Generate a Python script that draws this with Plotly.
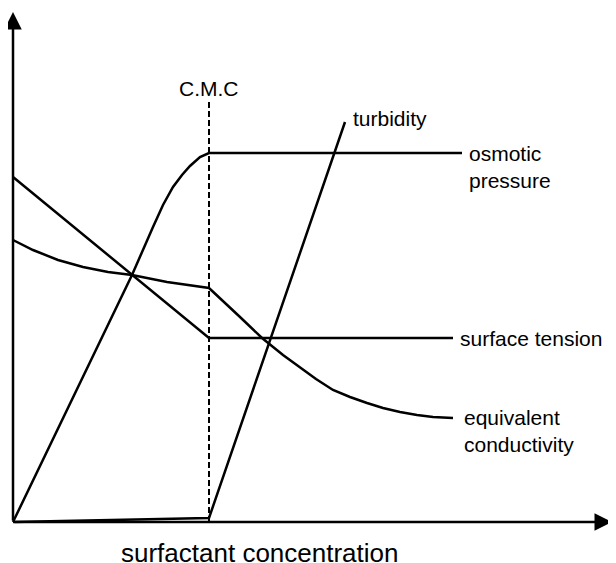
import plotly.graph_objects as go

# Data (arbitrary units, origin at axis corner)
cmc_x = 196
cmc_top = 422

osmotic_x = [0, 84, 119, 140, 150, 160, 169, 177, 187, 196, 449]
osmotic_y = [0, 174, 247, 295, 317, 335, 347, 356, 365, 369, 369]

tension_x = [0, 196, 440]
tension_y = [345, 184, 184]

conduct_x = [0, 20, 45, 70, 95, 119, 154, 196, 227, 249, 270, 287, 303, 320, 337, 354, 370, 387, 404, 420, 440]
conduct_y = [282, 272, 262, 255, 250, 247, 240, 234, 205, 184, 167, 155, 143, 132, 125, 119, 114, 110, 107, 105, 104]

turbid_x = [0, 196, 332]
turbid_y = [0, 4, 400]

labels = ["turbidity", "osmotic<br>pressure", "surface tension", "equivalent<br>conductivity"]
label_x = [338, 454, 445, 449]
label_y = [404, 355, 184, 91]

x_title = "surfactant concentration"
cmc_label = "C.M.C"

FONT = "Liberation Sans, Arial, sans-serif"
line = dict(color="black", width=2.5)

fig = go.Figure()
for xs, ys in [(osmotic_x, osmotic_y), (tension_x, tension_y),
               (conduct_x, conduct_y), (turbid_x, turbid_y)]:
    fig.add_trace(go.Scatter(x=xs, y=ys, mode="lines", line=line,
                             line_shape="linear",
                             hoverinfo="skip", showlegend=False))

# CMC dashed line
fig.add_trace(go.Scatter(x=[cmc_x, cmc_x], y=[0, cmc_top], mode="lines",
                         line=dict(color="black", width=2, dash="6px,3px"),
                         hoverinfo="skip", showlegend=False))

annotations = []
for t, x, y in zip(labels, label_x, label_y):
    annotations.append(dict(x=x, y=y, text=t, showarrow=False, xanchor="left",
                            yanchor="middle", align="left",
                            font=dict(family=FONT, size=21, color="black")))
annotations.append(dict(x=cmc_x, y=434, text=cmc_label, showarrow=False,
                        xanchor="center", yanchor="middle",
                        font=dict(family=FONT, size=21, color="black")))
annotations.append(dict(x=247, y=-31, text=x_title, showarrow=False,
                        xanchor="center", yanchor="middle",
                        font=dict(family=FONT, size=26, color="black")))
# axis arrows
annotations.append(dict(x=599, y=0, ax=0, ay=0, axref="x", ayref="y",
                        xref="x", yref="y", showarrow=True, arrowhead=2,
                        arrowsize=1.4, arrowwidth=2.5, arrowcolor="black", text=""))
annotations.append(dict(x=0, y=510, ax=0, ay=0, axref="x", ayref="y",
                        xref="x", yref="y", showarrow=True, arrowhead=2,
                        arrowsize=1.4, arrowwidth=2.5, arrowcolor="black", text=""))

fig.update_layout(
    width=608, height=555, autosize=False,
    margin=dict(l=0, r=0, t=0, b=0),
    paper_bgcolor="white", plot_bgcolor="white",
    xaxis=dict(range=[-5, 603], visible=False, fixedrange=True),
    yaxis=dict(range=[-41, 514], visible=False, fixedrange=True),
    annotations=annotations,
)

fig.write_html("out.html")
